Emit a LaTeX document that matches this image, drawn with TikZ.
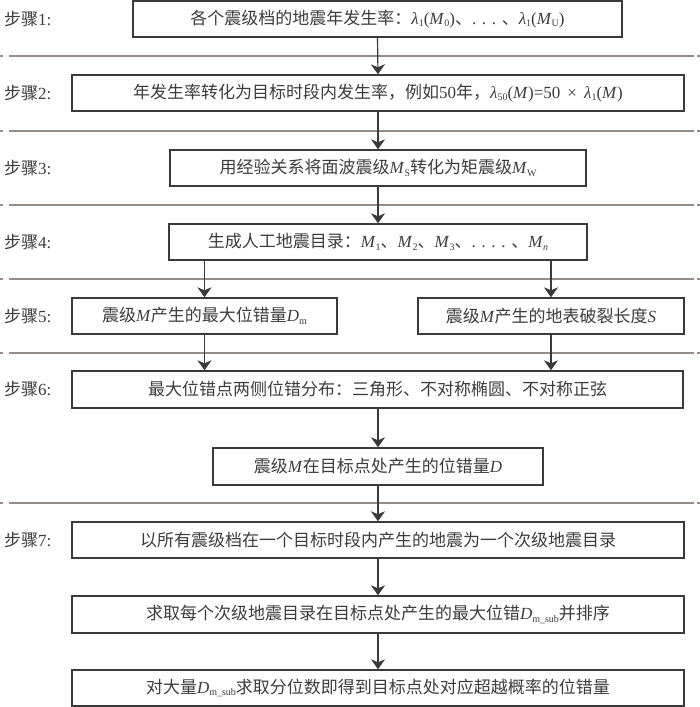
\documentclass[tikz,border=0pt]{standalone}
\usepackage{fontspec}
\setmainfont{Liberation Serif}
\newfontfamily\zh{Noto Sans CJK SC}
\usetikzlibrary{arrows.meta}
\newcommand\zc[1]{{\zh #1}}
\newcommand\myit[1]{\textit{#1}}
\newcommand\mysub[1]{\raisebox{-2.5pt}{\fontsize{10}{10}\selectfont #1}}
\definecolor{boxcol}{RGB}{58,58,58}
\definecolor{txtcol}{RGB}{60,60,60}
\definecolor{sepcol}{RGB}{150,140,138}
\tikzset{
  box/.style={draw=boxcol, line width=1.4pt, rectangle, inner sep=0pt, text=txtcol,
    font=\fontsize{17}{20}\selectfont, minimum height=36pt},
  steplabel/.style={anchor=west, inner sep=0pt, text=txtcol, font=\fontsize{17}{20}\selectfont},
  arr/.style={draw=boxcol, line width=1.2pt, -{Stealth[length=10pt,width=14pt,inset=3pt]}},
  sep/.style={draw=sepcol, line width=1.3pt, dash pattern=on 2.7pt off 6.3pt on 685pt off 3pt on 10pt}
}
\begin{document}
\begin{tikzpicture}[x=1pt,y=-1pt]
\useasboundingbox (0,0) rectangle (700,707);
% separators
\foreach \yy in {56,131,205,279,353,503} {
  \draw[sep] (0,\yy) -- (700,\yy);
}
% boxes
\node[box, minimum width=489pt] (b1) at (377.5,19)
  {\zc{各个震级档的地震年发生率：}\myit{λ}\mysub{1}(\myit{M}\mysub{0})\zc{、}. . . \zc{、}\myit{λ}\mysub{1}(\myit{M}\mysub{U})};
\node[box, minimum width=612pt] (b2) at (378,93)
  {\zc{年发生率转化为目标时段内发生率，例如}50\zc{年，}\myit{λ}\mysub{50}(\myit{M})=50 \,×\, \myit{λ}\mysub{1}(\myit{M})};
\node[box, minimum width=416pt] (b3) at (378,168)
  {\zc{用经验关系将面波震级}\myit{M}\mysub{S}\zc{转化为矩震级}\myit{M}\mysub{W}};
\node[box, minimum width=418pt] (b4) at (378,242)
  {\zc{生成人工地震目录：}\myit{M}\mysub{1}\zc{、}\myit{M}\mysub{2}\zc{、}\myit{M}\mysub{3}\zc{、}. . . . \zc{、}\myit{M}\mysub{\myit{n}}};
\node[box, minimum width=265pt] (b5a) at (204.5,316)
  {\zc{震级}\myit{M}\zc{产生的最大位错量}\myit{D}\mysub{m}};
\node[box, minimum width=266pt] (b5b) at (551,316)
  {\zc{震级}\myit{M}\zc{产生的地表破裂长度}\myit{S}};
\node[box, minimum width=611pt, minimum height=37pt] (b6) at (377.5,389.5)
  {\zc{最大位错点两侧位错分布：三角形、不对称椭圆、不对称正弦}};
\node[box, minimum width=330pt, minimum height=37pt] (b6b) at (378,466.5)
  {\zc{震级}\myit{M}\zc{在目标点处产生的位错量}\myit{D}};
\node[box, minimum width=612pt] (b7) at (378,540)
  {\zc{以所有震级档在一个目标时段内产生的地震为一个次级地震目录}};
\node[box, minimum width=612pt, minimum height=37pt] (b8) at (378,614.5)
  {\zc{求取每个次级地震目录在目标点处产生的最大位错}\myit{D}\mysub{m\_sub}\zc{并排序}};
\node[box, minimum width=612pt] (b9) at (378,688)
  {\zc{对大量}\myit{D}\mysub{m\_sub}\zc{求取分位数即得到目标点处对应超越概率的位错量}};
% step labels
\node[steplabel] (s1) at (4,19) {\zc{步骤}1:};
\node[steplabel] (s2) at (4,93) {\zc{步骤}2:};
\node[steplabel] (s3) at (4,168) {\zc{步骤}3:};
\node[steplabel] (s4) at (4,242) {\zc{步骤}4:};
\node[steplabel] (s5) at (4,316) {\zc{步骤}5:};
\node[steplabel] (s6) at (4,389.5) {\zc{步骤}6:};
\node[steplabel] (s7) at (4,540) {\zc{步骤}7:};
% arrows
\draw[arr] (b1.south) -- (b2.north);
\draw[arr] (b2.south) -- (b3.north);
\draw[arr] (b3.south) -- (b4.north);
\draw[arr] (b4.south -| b5a.north) -- (b5a.north);
\draw[arr] (b4.south -| b5b.north) -- (b5b.north);
\draw[arr] (b5a.south) -- (b5a.south |- b6.north);
\draw[arr] (b5b.south) -- (b5b.south |- b6.north);
\draw[arr] (b6.south -| b6b.north) -- (b6b.north);
\draw[arr] (b6b.south) -- (b6b.south |- b7.north);
\draw[arr] (b7.south) -- (b8.north);
\draw[arr] (b8.south) -- (b9.north);
\end{tikzpicture}
\end{document}
